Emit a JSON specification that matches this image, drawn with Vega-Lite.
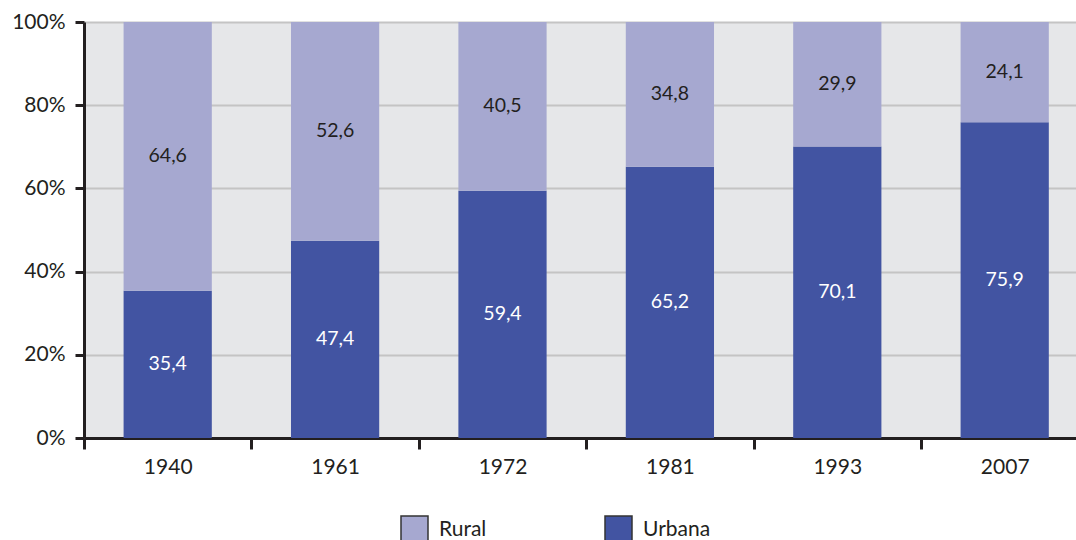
{
  "$schema": "https://vega.github.io/schema/vega-lite/v6.json",
  "autosize": {"type": "none"},
  "padding": {"left": 84, "top": 22, "right": 0, "bottom": 102},
  "width": 992,
  "height": 416,
  "config": {
    "locale": {"number": {"decimal": ",", "thousands": ".", "grouping": [3], "currency": ["", " €"]}},
    "view": {"fill": "#e6e7e9", "stroke": null},
    "font": "Lato"
  },
  "data": {
    "values": [
      {"ano": "1940", "serie": "Urbana", "pct": 35.4},
      {"ano": "1940", "serie": "Rural", "pct": 64.6},
      {"ano": "1961", "serie": "Urbana", "pct": 47.4},
      {"ano": "1961", "serie": "Rural", "pct": 52.6},
      {"ano": "1972", "serie": "Urbana", "pct": 59.4},
      {"ano": "1972", "serie": "Rural", "pct": 40.5},
      {"ano": "1981", "serie": "Urbana", "pct": 65.2},
      {"ano": "1981", "serie": "Rural", "pct": 34.8},
      {"ano": "1993", "serie": "Urbana", "pct": 70.1},
      {"ano": "1993", "serie": "Rural", "pct": 29.9},
      {"ano": "2007", "serie": "Urbana", "pct": 75.9},
      {"ano": "2007", "serie": "Rural", "pct": 24.1}
    ]
  },
  "encoding": {
    "x": {
      "field": "ano",
      "type": "nominal",
      "scale": {"range": [0, 1004.4], "paddingInner": 0, "paddingOuter": 0},
      "axis": {
        "title": null,
        "labelAngle": 0,
        "labelFont": "Lato",
        "labelFontSize": 21,
        "labelColor": "#231f20",
        "labelPadding": 7,
        "domainColor": "#231f20",
        "domainWidth": 3,
        "tickColor": "#231f20",
        "tickWidth": 3,
        "tickSize": 11,
        "tickBand": "extent",
        "grid": false
      }
    }
  },
  "layer": [
    {
      "mark": {"type": "bar", "width": {"band": 0.527}},
      "encoding": {
        "y": {
          "field": "pct",
          "type": "quantitative",
          "stack": "normalize",
          "axis": {
            "title": null,
            "values": [0, 0.2, 0.4, 0.6, 0.8, 1],
            "format": ".0%",
            "labelFont": "Lato",
            "labelFontSize": 21,
            "labelColor": "#231f20",
            "labelPadding": 10,
            "domainColor": "#231f20",
            "domainWidth": 3,
            "tickColor": "#231f20",
            "tickWidth": 3,
            "tickSize": 9,
            "grid": true,
            "gridColor": "#c4c4c4",
            "gridWidth": 2
          }
        },
        "color": {
          "field": "serie",
          "type": "nominal",
          "scale": {"domain": ["Rural", "Urbana"], "range": ["#a6a8d0", "#4254a2"]},
          "legend": {
            "title": null,
            "orient": "none",
            "legendX": 316,
            "legendY": 493,
            "direction": "horizontal",
            "symbolType": "square",
            "symbolSize": 729,
            "symbolStrokeColor": "#333333",
            "symbolStrokeWidth": 1.5,
            "labelFont": "Lato",
            "labelFontSize": 21,
            "labelColor": "#231f20",
            "labelOffset": 10,
            "columnPadding": 115,
            "padding": 0
          }
        },
        "order": {"field": "serie", "sort": "descending"}
      }
    },
    {
      "mark": {"type": "text", "font": "Lato", "fontSize": 19.5},
      "encoding": {
        "y": {"field": "pct", "type": "quantitative", "stack": "normalize", "bandPosition": 0.5},
        "text": {"field": "pct", "type": "quantitative", "format": ".1f"},
        "color": {"condition": {"test": "datum.serie === 'Urbana'", "value": "#ffffff"}, "value": "#231f20"},
        "order": {"field": "serie", "sort": "descending"}
      }
    }
  ]
}
